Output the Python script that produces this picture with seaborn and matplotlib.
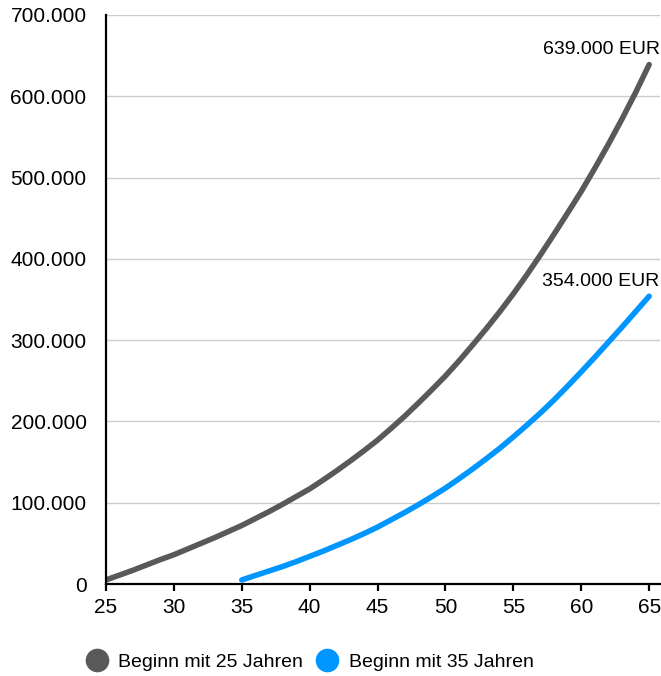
import matplotlib
matplotlib.use("Agg")
import matplotlib.pyplot as plt
from matplotlib.lines import Line2D
from matplotlib.ticker import FuncFormatter
import seaborn as sns
import pandas as pd

# Portfolio value by age (EUR), savings started at 25 vs. at 35
ages_25 = list(range(25, 66))
values_25 = [
    5000, 11000, 17000, 23500, 30000, 36000, 43000, 50000, 57000, 64500,
    72000, 80500, 89000, 98000, 107500, 117000, 128000, 139500, 151500, 164000,
    177000, 191500, 206500, 222500, 239000, 256000, 274500, 294000, 314000, 335000,
    357000, 380500, 405000, 430500, 456500, 483000, 511500, 541000, 572000, 604500,
    639000,
]
ages_35 = list(range(35, 66))
values_35 = [
    5000, 10500, 16000, 21500, 27500, 34000, 40500, 47500, 54500, 62000,
    70000, 79000, 88000, 97500, 107500, 118000, 129500, 141500, 154000, 167000,
    181000, 195500, 210500, 226500, 243500, 261000, 279000, 297500, 316000, 335000,
    354000,
]
series_names = ["Beginn mit 25 Jahren", "Beginn mit 35 Jahren"]
end_labels = ["639.000 EUR", "354.000 EUR"]
x_ticks = [25, 30, 35, 40, 45, 50, 55, 60, 65]
y_ticks = [0, 100000, 200000, 300000, 400000, 500000, 600000, 700000]

colors = {series_names[0]: "#58595b", series_names[1]: "#0096ff"}

df = pd.concat([
    pd.DataFrame({"Alter": ages_25, "Wert": values_25, "Serie": series_names[0]}),
    pd.DataFrame({"Alter": ages_35, "Wert": values_35, "Serie": series_names[1]}),
])

sns.set_theme(style="white")
plt.rcParams["font.family"] = ["Liberation Sans", "DejaVu Sans"]

fig = plt.figure(figsize=(6.61, 6.76), dpi=100)
ax = fig.add_axes([106 / 661, 1 - 584 / 676, (660 - 106) / 661, (584 - 15) / 676])

sns.lineplot(data=df, x="Alter", y="Wert", hue="Serie", palette=colors,
             linewidth=4.0, ax=ax, legend=False, solid_capstyle="round",
             solid_joinstyle="round")

ax.set_xlim(25, 65.8)
ax.set_ylim(0, 700000)
ax.set_xticks(x_ticks)
ax.set_yticks(y_ticks)
ax.yaxis.set_major_formatter(FuncFormatter(lambda v, p: f"{int(v):,}".replace(",", ".")))
ax.set_xlabel("")
ax.set_ylabel("")

ax.grid(axis="y", color="#cccccc", linewidth=1.0)
ax.grid(axis="x", visible=False)
ax.set_axisbelow(True)

for side in ["top", "right"]:
    ax.spines[side].set_visible(False)
for side in ["left", "bottom"]:
    ax.spines[side].set_color("black")
    ax.spines[side].set_linewidth(1.6)

ax.tick_params(axis="x", bottom=True, length=5, width=1.6, color="black",
               labelsize=15, labelcolor="black", pad=5)
ax.tick_params(axis="y", left=False, length=0, labelsize=15, labelcolor="black", pad=14)

# End-of-line value labels
for vals, ages, lab in [(values_25, ages_25, end_labels[0]), (values_35, ages_35, end_labels[1])]:
    ax.annotate(lab, xy=(ages[-1], vals[-1]), xytext=(7.5, 7.5), textcoords="offset points",
                ha="right", va="baseline", fontsize=14, color="black",
                annotation_clip=False)

handles = [Line2D([], [], linestyle="none", marker="o", markersize=16,
                  markerfacecolor=colors[n], markeredgecolor=colors[n]) for n in series_names]
fig.legend(handles, series_names, loc="center left", ncol=2, frameon=False,
           bbox_to_anchor=(87 / 661, 1 - 662 / 676), fontsize=14, labelcolor="black",
           handlelength=1.0, handletextpad=0.6, columnspacing=0.75,
           borderpad=0, borderaxespad=0)

fig.savefig("out.png", dpi=100)
